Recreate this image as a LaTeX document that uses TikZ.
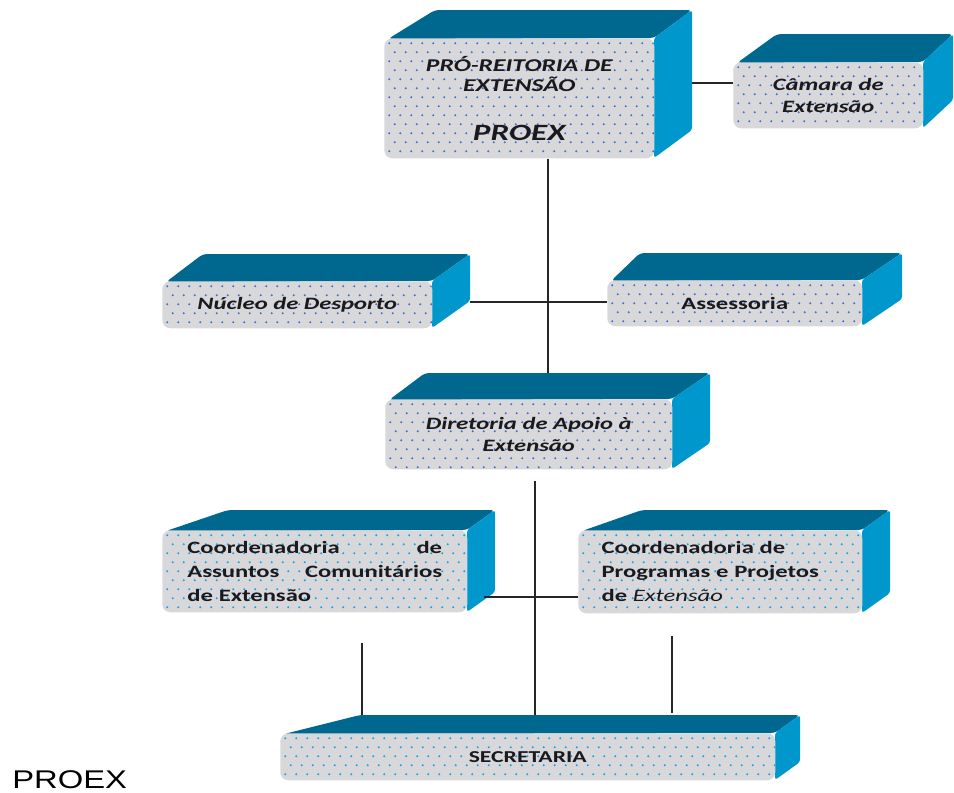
\documentclass[tikz,border=0pt]{standalone}
\usepackage{fontspec}
\setmainfont{Carlito}[FakeStretch=1.42]
\newfontfamily\captionfnt{Liberation Sans}[FakeStretch=1.28]
\usetikzlibrary{calc}
\definecolor{topc}{RGB}{0,104,142}
\definecolor{sidec}{RGB}{0,152,204}
\definecolor{facec}{RGB}{216,216,218}
\definecolor{dotup}{RGB}{60,115,205}
\definecolor{dotlow}{RGB}{15,165,235}
\definecolor{txt}{RGB}{25,25,30}
\newcommand\dotgrid[1]{%
  \foreach \j in {0,...,14}{\foreach \i in {0,...,46}{%
    \fill[#1] ([shift={({\i*11+5+mod(\j,2)*5.5},{\j*9+5})}]path picture bounding box.north west) circle[radius=0.85pt];}}}
% x1 y1 x2 y2 xback-left xback-right ytop
\newcommand\cubefaces[7]{%
  \fill[topc, rounded corners=3pt] (#1+4,#2+1) -- (#5,#7) -- (#6,#7) -- (#3,#2) -- cycle;
  \fill[sidec, rounded corners=2pt] (#3,#2) -- (#6,#7) -- (#6,{#4-(#2-#7)}) -- (#3,#4) -- cycle;}
\tikzset{
  frontface/.style={rectangle, rounded corners=6pt, fill=facec, inner sep=0pt,
    anchor=north west, text=txt, align=center,
    font=\bfseries\fontsize{13}{16.5}\selectfont,
    path picture={\dotgrid{#1}}},
  itext/.style={font=\bfseries\itshape\fontsize{13}{16.5}\selectfont},
  link/.style={line width=1pt, black!85}
}
\begin{document}
\begin{tikzpicture}[x=0.75pt,y=-0.75pt]
\useasboundingbox (0,0) rectangle (954,793);
% 3D faces
\cubefaces{384}{38}{654}{158}{435}{692}{10}
\cubefaces{733}{62}{923}{128}{777}{953}{34}
\cubefaces{162}{281}{432}{328}{203}{470}{254}
\cubefaces{607}{280}{862}{326}{640}{902}{253}
\cubefaces{385}{399}{672}{469}{425}{710}{373}
\cubefaces{162}{530}{467}{612}{228}{495}{510}
\cubefaces{578}{530}{862}{613}{642}{890}{510}
\cubefaces{280}{733}{775}{780}{360}{800}{715}
% front faces
\node[frontface=dotup, font=\bfseries\itshape\fontsize{13.5}{15}\selectfont,
  minimum width=202.5pt, minimum height=90pt] (proex) at (384,38)
  {PRÓ-REITORIA DE\\EXTENSÃO\\[22pt]{\fontsize{17.5}{15}\selectfont PROEX}};
\node[frontface=dotup, itext, minimum width=142.5pt, minimum height=49.5pt] (camara) at (733,62)
  {Câmara de\\Extensão};
\node[frontface=dotup, itext, minimum width=202.5pt, minimum height=35.25pt] (nucleo) at (162,281)
  {Núcleo de Desporto};
\node[frontface=dotup, minimum width=191.25pt, minimum height=34.5pt] (assess) at (607,280)
  {Assessoria};
\node[frontface=dotup, itext, minimum width=215.25pt, minimum height=52.5pt] (diret) at (385,399)
  {Diretoria de Apoio à\\Extensão};
\node[frontface=dotlow, minimum width=228.75pt, minimum height=61.5pt, text width=191pt, align=left,
  font=\bfseries\fontsize{13}{18}\selectfont] (coordA) at (162,530)
  {Coordenadoria\hfill de\\Assuntos\hfill Comunitários\\de Extensão};
\node[frontface=dotlow, minimum width=213pt, minimum height=62.25pt, text width=178pt, align=left,
  font=\bfseries\fontsize{13}{18}\selectfont] (coordP) at (578,530)
  {Coordenadoria de\\Programas e Projetos\\de {\mdseries\itshape Extensão}};
\node[frontface=dotlow, font=\bfseries\fontsize{12.5}{16}\selectfont,
  minimum width=371.25pt, minimum height=35.25pt] (secr) at (280,733)
  {SECRETARIA};
\node[anchor=base west, inner sep=0pt, font=\captionfnt\fontsize{19.2}{22}\selectfont] (cap) at (12,788) {PROEX};
% connectors
\coordinate (p1) at (692,83);
\draw[link] (p1) -- (p1 -| camara.west);
\coordinate (d1) at (548,373);
\draw[link] (d1 |- proex.south) -- (d1);
\coordinate (n1) at (470,302);
\draw[link] (n1) -- (n1 -| assess.west);
\coordinate (d2) at (535,481);
\coordinate (s2) at (535,715);
\draw[link] (d2) -- (s2);
\coordinate (a1) at (484,597);
\draw[link] (a1) -- (a1 -| coordP.west);
\coordinate (v1a) at (362,643);
\coordinate (v1b) at (362,715);
\draw[link] (v1a) -- (v1b);
\coordinate (v2a) at (672,636);
\coordinate (v2b) at (672,713);
\draw[link] (v2a) -- (v2b);
\end{tikzpicture}
\end{document}
